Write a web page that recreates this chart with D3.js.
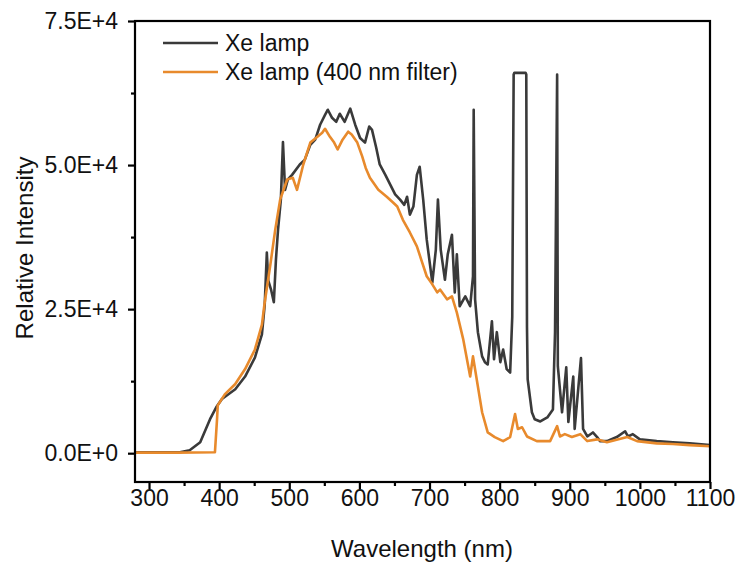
<!DOCTYPE html>
<html>
<head>
<meta charset="utf-8">
<script src="https://cdn.jsdelivr.net/npm/d3@7"></script>
<style>
  html, body { margin: 0; padding: 0; background: #fff; }
  text { font-family: "Liberation Sans", Arial, sans-serif; fill: #111; }
</style>
</head>
<body>
<svg id="chart" width="740" height="567"></svg>
<script>
// ---- data ----
const seriesNames = ["Xe lamp", "Xe lamp (400 nm filter)"];
const seriesColors = ["#3a3a3a", "#e88a2c"];

const xeWavelength = [280,316,344,358,373,387,396,404,423,437,451,461,465,468,470,474,478,481,484,488,491,494,498,504,515,522,530,537,544,551,555,561,567,572,579,587,594,601,608,614,618,624,629,637,644,651,658,664,668,672,677,682,686,691,696,704,709,712,716,722,726,732,736,739,743,751,758,762,763,765,769,775,779,783,789,792,796,801,805,810,815,818,820,821,837,838,839,840,846,850,858,868,876,879,882,883,889,895,898,905,907,916,919,925,933,939,943,953,967,979,983,990,1000,1024,1047,1071,1100];
const xeIntensity = [170,170,170,500,1900,5900,8000,9400,11100,13300,16600,20600,25800,34800,30000,28400,26200,33600,38800,44000,54000,45700,47500,48300,50100,50900,53500,54400,57000,58700,59600,58200,57500,58900,57500,59800,57000,54700,53900,56700,56100,53000,50100,48300,46600,44900,44000,43100,44500,41400,42800,48300,49700,44000,37100,29600,35300,44000,35300,30100,34500,37900,27900,34500,25500,27200,25500,30700,59600,26700,21000,16800,15800,15400,22900,16300,21000,15800,18000,14600,14000,23700,65700,66000,66000,65700,22000,12800,7100,5900,5500,6200,7600,21000,65700,15100,7100,14900,5400,13300,4200,16500,4200,2900,3600,2800,2100,2100,2800,3800,2900,3300,2400,2100,1900,1700,1400];

const filterWavelength = [280,340,394,397,398,408,423,437,451,461,465,473,480,487,497,505,511,520,530,538,547,551,558,564,569,576,584,589,597,604,609,615,627,639,648,654,662,672,682,689,696,704,711,715,725,732,739,748,758,762,768,775,783,793,805,815,822,826,832,839,853,872,882,886,893,903,915,925,939,953,982,996,1024,1047,1071,1100];
const filterIntensity = [100,100,170,5900,8300,10200,12000,14600,18000,22300,26200,32700,38800,44000,47500,47800,45700,50100,53900,54700,55600,56300,54900,53900,52700,54400,55800,55300,53900,51500,49500,47800,45700,44500,43500,42800,40500,38300,35900,33300,30700,29300,27900,28400,26700,27200,24400,19800,13300,16800,12300,7100,3600,2800,2100,2800,6800,4200,4500,2900,2100,2100,4700,2900,3300,2800,3300,2100,2400,1900,2800,2100,1700,1600,1400,1200];

const xTicks = [300,400,500,600,700,800,900,1000,1100];
const xMinorTicks = [350,450,550,650,750,850,950,1050];
const yTicks = [0,25000,50000,75000];
const yTickLabels = ["0.0E+0","2.5E+4","5.0E+4","7.5E+4"];
const yMinorTicks = [12500,37500,62500];

// ---- layout ----
const W = 740, H = 567;
const m = {left: 135, right: 30, top: 21, bottom: 85};
const svg = d3.select("#chart");
const FONT = '"Liberation Sans", Arial, sans-serif';

const x = d3.scaleLinear().domain([280, 1100]).range([m.left, W - m.right]);
const y = d3.scaleLinear().domain([-5000, 75000]).range([H - m.bottom, m.top]);

// lines
const lineGen = d3.line().x(d => x(d[0])).y(d => y(d[1]));
const xeData = d3.zip(xeWavelength, xeIntensity);
const filterData = d3.zip(filterWavelength, filterIntensity);

const plot = svg.append("g");
plot.append("path").datum(xeData)
  .attr("fill", "none").attr("stroke", seriesColors[0])
  .attr("stroke-width", 2.6).attr("stroke-linejoin", "round")
  .attr("d", lineGen);
plot.append("path").datum(filterData)
  .attr("fill", "none").attr("stroke", seriesColors[1])
  .attr("stroke-width", 2.6).attr("stroke-linejoin", "round")
  .attr("d", lineGen);

// frame
svg.append("rect")
  .attr("x", m.left).attr("y", m.top)
  .attr("width", W - m.left - m.right).attr("height", H - m.top - m.bottom)
  .attr("fill", "none").attr("stroke", "#000").attr("stroke-width", 2.2);

// x axis
const xAxis = d3.axisBottom(x).tickValues(xTicks).tickSize(7).tickPadding(1).tickFormat(d3.format("d"));
const gx = svg.append("g").attr("transform", `translate(0,${H - m.bottom})`).call(xAxis);
gx.select(".domain").remove();
gx.selectAll(".tick line").attr("stroke", "#000").attr("stroke-width", 2.2);
gx.selectAll(".tick text").attr("font-size", 23).attr("fill", "#111").style("font-family", FONT);
const gxm = svg.append("g").attr("transform", `translate(0,${H - m.bottom})`)
  .call(d3.axisBottom(x).tickValues(xMinorTicks).tickSize(4).tickFormat(""));
gxm.select(".domain").remove();
gxm.selectAll(".tick line").attr("stroke", "#000").attr("stroke-width", 2.2);

// y axis
const yAxis = d3.axisLeft(y).tickValues(yTicks).tickSize(7).tickPadding(10)
  .tickFormat((d, i) => yTickLabels[i]);
const gy = svg.append("g").attr("transform", `translate(${m.left},0)`).call(yAxis);
gy.select(".domain").remove();
gy.selectAll(".tick line").attr("stroke", "#000").attr("stroke-width", 2.2);
gy.selectAll(".tick text").attr("font-size", 23).attr("fill", "#111").style("font-family", FONT);
const gym = svg.append("g").attr("transform", `translate(${m.left},0)`)
  .call(d3.axisLeft(y).tickValues(yMinorTicks).tickSize(4).tickFormat(""));
gym.select(".domain").remove();
gym.selectAll(".tick line").attr("stroke", "#000").attr("stroke-width", 2.2);

// axis titles
svg.append("text")
  .attr("x", 422).attr("y", 557)
  .attr("text-anchor", "middle").attr("font-size", 24)
  .text("Wavelength (nm)");
svg.append("text")
  .attr("transform", `translate(33,248) rotate(-90)`)
  .attr("text-anchor", "middle").attr("font-size", 24)
  .text("Relative Intensity");

// legend
const legend = svg.append("g");
seriesNames.forEach((name, i) => {
  const ly = 43 + i * 29;
  legend.append("line")
    .attr("x1", 163).attr("x2", 218).attr("y1", ly).attr("y2", ly)
    .attr("stroke", seriesColors[i]).attr("stroke-width", 2.6);
  legend.append("text")
    .attr("x", 225).attr("y", ly).attr("dy", "0.35em")
    .attr("font-size", 23).text(name);
});
</script>
</body>
</html>
